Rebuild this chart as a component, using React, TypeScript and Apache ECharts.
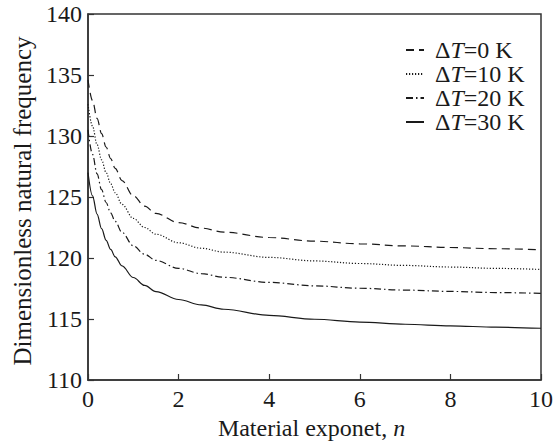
import React, { useEffect, useRef } from "react";
import * as echarts from "echarts";

// Material exponent n (x axis)
const nValues = [0, 0.1, 0.2, 0.3, 0.4, 0.5, 0.6, 0.75, 1, 1.25, 1.5, 2, 2.5, 3, 4, 5, 6, 7, 8, 9, 10];

// Dimensionless natural frequency for each temperature rise
const freqDT0 = [134.6, 132.9, 131.45, 130.2, 129.1, 128.15, 127.35, 126.35, 125.1, 124.25, 123.65, 122.9, 122.45, 122.12, 121.68, 121.38, 121.16, 120.99, 120.86, 120.76, 120.68];
const freqDT10 = [132.6, 130.8, 129.3, 128.05, 127.0, 126.1, 125.35, 124.4, 123.25, 122.5, 121.95, 121.25, 120.8, 120.48, 120.05, 119.76, 119.55, 119.39, 119.26, 119.15, 119.06];
const freqDT20 = [130.5, 128.5, 126.9, 125.6, 124.55, 123.7, 123.0, 122.1, 121.0, 120.3, 119.8, 119.15, 118.72, 118.42, 118.0, 117.72, 117.52, 117.37, 117.26, 117.17, 117.1];
const freqDT30 = [127.0, 125.1, 123.6, 122.4, 121.45, 120.7, 120.1, 119.35, 118.4, 117.75, 117.25, 116.6, 116.15, 115.8, 115.3, 114.98, 114.75, 114.57, 114.44, 114.33, 114.24];

const seriesNames = ["ΔT=0 K", "ΔT=10 K", "ΔT=20 K", "ΔT=30 K"];
const deltaT = ["0", "10", "20", "30"];

const FONT = "Liberation Serif";
const INK = "#1a1a1a";

export default function App() {
  const ref = useRef<HTMLDivElement>(null);

  useEffect(() => {
    if (!ref.current) return;
    const chart = echarts.init(ref.current, null, { renderer: "svg" });

    const pair = (ys: number[]) => nValues.map((x, i) => [x, ys[i]]);
    const dashes: any[] = [[8, 5], [1.2, 1.8], [7, 3, 1.5, 3], "solid"];
    const datasets = [freqDT0, freqDT10, freqDT20, freqDT30];

    chart.setOption({
      animation: false,
      backgroundColor: "#fff",
      grid: {
        left: 88,
        top: 14,
        width: 453,
        height: 366,
        outerBoundsMode: "none",
        show: true,
        borderColor: "#333",
        borderWidth: 1.5,
        backgroundColor: "transparent",
      },
      legend: {
        left: 405,
        top: 38,
        orient: "vertical",
        itemWidth: 18,
        itemHeight: 12,
        itemGap: 0,
        padding: 0,
        data: seriesNames,
        itemStyle: { opacity: 0 },
        formatter: (name: string) => {
          const idx = seriesNames.indexOf(name);
          return `{s|}{d|Δ}{i|T}{d|=${deltaT[idx]} K}`;
        },
        textStyle: {
          fontFamily: FONT,
          fontSize: 24,
          lineHeight: 23.5,
          color: INK,
          rich: {
            s: { width: 6 },
            d: { fontFamily: FONT, fontSize: 24, lineHeight: 23.5, color: INK },
            i: { fontFamily: FONT, fontSize: 24, lineHeight: 23.5, color: INK, fontStyle: "italic" },
          },
        },
      },
      xAxis: {
        type: "value",
        min: 0,
        max: 10,
        interval: 2,
        name: "{t|Material exponet, }{i|n}",
        nameLocation: "middle",
        nameGap: 34,
        nameTextStyle: {
          padding: [0, 6, 0, 0],
          rich: {
            t: { fontFamily: FONT, fontSize: 24, color: INK },
            i: { fontFamily: FONT, fontSize: 24, color: INK, fontStyle: "italic" },
          },
        },
        axisLine: { show: true, lineStyle: { color: "#333", width: 1.5 } },
        axisTick: { show: true, inside: true, length: 6, lineStyle: { color: "#333", width: 1.2 } },
        axisLabel: { fontFamily: FONT, fontSize: 24, color: INK, margin: 7 },
        splitLine: { show: false },
      },
      yAxis: {
        type: "value",
        min: 110,
        max: 140,
        interval: 5,
        name: "Dimensionless natural frequency",
        nameLocation: "middle",
        nameGap: 45,
        nameTextStyle: { fontFamily: FONT, fontSize: 25, color: INK, padding: [0, 8, 0, 0] },
        axisLine: { show: true, lineStyle: { color: "#333", width: 1.5 } },
        axisTick: { show: true, inside: true, length: 6, lineStyle: { color: "#333", width: 1.2 } },
        axisLabel: { fontFamily: FONT, fontSize: 24, color: INK, margin: 6 },
        splitLine: { show: false },
      },
      series: datasets.map((ys, i) => ({
        name: seriesNames[i],
        type: "line",
        data: pair(ys),
        smooth: 0.35,
        smoothMonotone: "x",
        symbol: "none",
        lineStyle: { color: INK, width: 1.2, type: dashes[i] },
        itemStyle: { color: INK },
      })),
    });

    return () => chart.dispose();
  }, []);

  return <div ref={ref} style={{ width: 554, height: 441, position: "absolute", left: 0, top: 0 }} />;
}
